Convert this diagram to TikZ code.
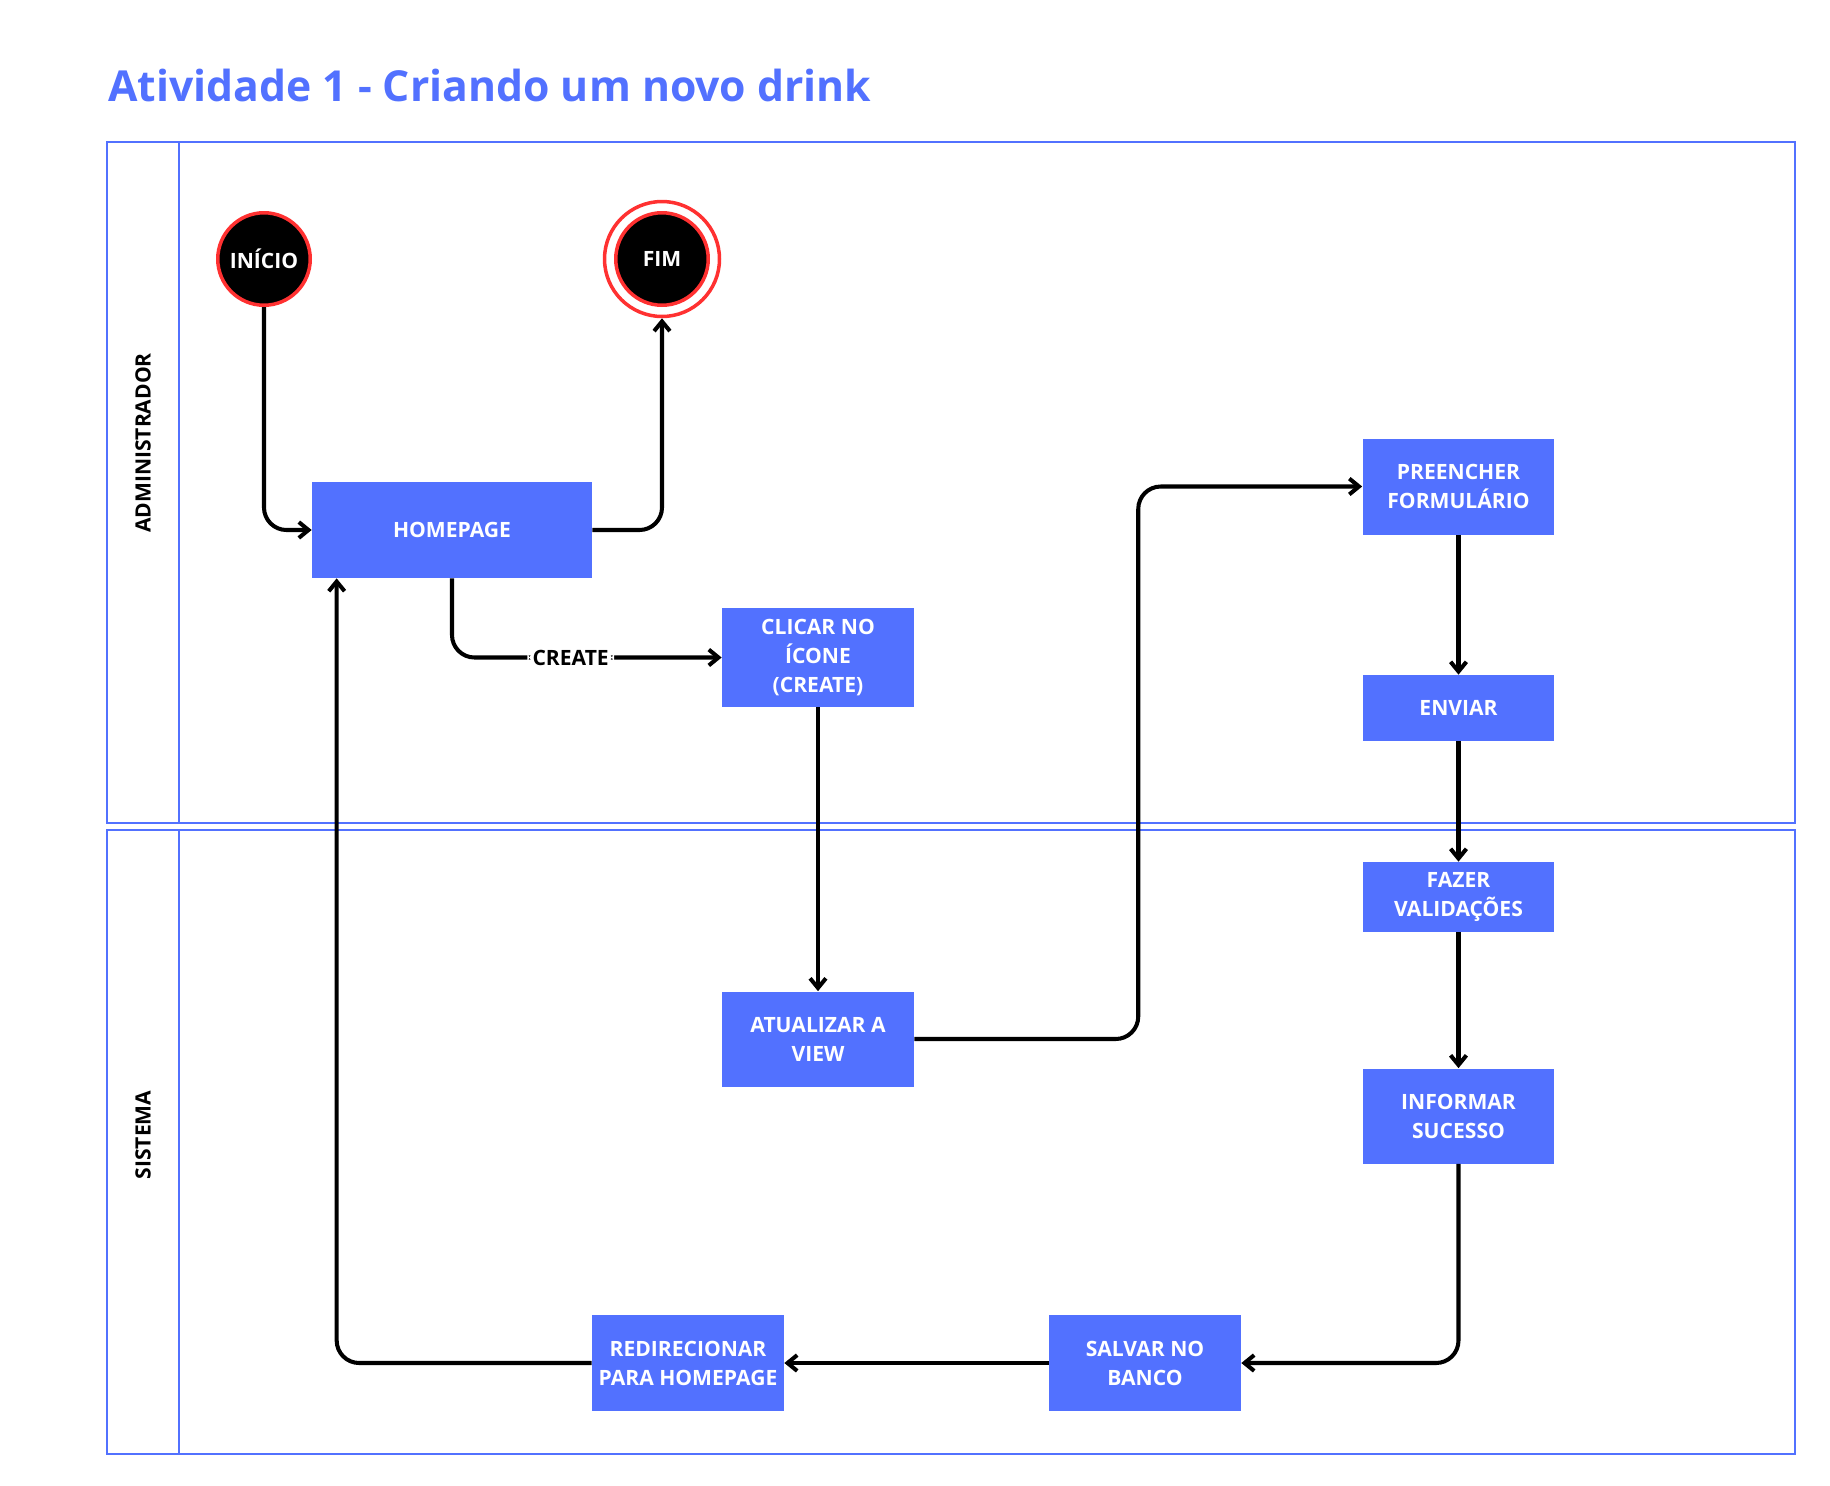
\documentclass[tikz,border=0pt]{standalone}
\usepackage{fontspec}
\setmainfont{Open Sans}
\usepackage{tikz}
\usetikzlibrary{arrows.meta,positioning,calc}
\definecolor{canvablue}{HTML}{5271FF}
\definecolor{canvared}{HTML}{FF3131}

\begin{document}
\begin{tikzpicture}[x=0.02cm,y=-0.02cm,
    flow/.style={-{Straight Barb[length=5.5pt,width=9pt,line width=2.3pt]},line width=2.3pt,rounded corners=0.45cm},
    box/.style={fill=canvablue,text=white,inner sep=0pt,align=center,font=\bfseries\fontsize{12}{16.5}\selectfont},
    endpt/.style={circle,fill=black,draw=canvared,line width=2pt,minimum size=1.85cm,inner sep=0pt,text=white,font=\bfseries\fontsize{12}{14}\selectfont},
    lane/.style={draw=canvablue,line width=1.1pt}]
    \useasboundingbox (0,0) rectangle (1830,1485);

    \node[anchor=west,text=canvablue,font=\bfseries\fontsize{24.3}{28}\selectfont] (title) at (102,85) {Atividade 1 - Criando um novo drink};

    \draw[lane] (107,142) rectangle (1795,823) (179,142) -- (179,823);
    \draw[lane] (107,830) rectangle (1795,1454) (179,830) -- (179,1454);
    \node[rotate=90,font=\bfseries\fontsize{12}{14}\selectfont] (admlbl) at (143,443) {ADMINISTRADOR};
    \node[rotate=90,font=\bfseries\fontsize{12}{14}\selectfont] (syslbl) at (143,1135) {SISTEMA};

    \node[endpt] (inicio) at (264,259) {INÍCIO};
    \node[endpt] (fim)    at (662,259) {FIM};
    \node[circle,draw=canvared,line width=2pt,minimum size=2.3cm] (fimout) at (fim) {};

    \node[box, minimum width=5.6cm,  minimum height=1.92cm] (home)    at (452,530)    {HOMEPAGE};
    \node[box, minimum width=3.84cm, minimum height=1.98cm] (clicar)  at (818,657.5)  {CLICAR NO\\ÍCONE\\(CREATE)};
    \node[box, minimum width=3.84cm, minimum height=1.9cm]  (atual)   at (818,1039)   {ATUALIZAR A\\VIEW};
    \node[box, minimum width=3.84cm, minimum height=1.92cm] (preen)   at (1458.5,486.5) {PREENCHER\\FORMULÁRIO};
    \node[box, minimum width=3.84cm, minimum height=1.32cm] (enviar)  at (1458.5,708)  {ENVIAR};
    \node[box, minimum width=3.84cm, minimum height=1.4cm]  (fazer)   at (1458.5,897)  {FAZER\\VALIDAÇÕES};
    \node[box, minimum width=3.84cm, minimum height=1.9cm]  (inform)  at (1458.5,1116) {INFORMAR\\SUCESSO};
    \node[box, minimum width=3.84cm, minimum height=1.92cm] (salvar)  at (1145,1363)  {SALVAR NO\\BANCO};
    \node[box, minimum width=3.84cm, minimum height=1.92cm] (redir)   at (688,1363)   {REDIRECIONAR\\PARA HOMEPAGE};

    \draw[flow] (inicio) |- (home);
    \draw[flow] (home) -| (fimout);
    \draw[flow] (home) |- node[pos=0.72,fill=white,inner sep=3pt,font=\bfseries\fontsize{12}{14}\selectfont] {CREATE} (clicar);
    \draw[flow] (clicar) -- (atual);
    \draw[flow] (atual) -| ($(atual.east)!.5!(preen.west)$) |- (preen);
    \draw[flow] (preen) -- (enviar);
    \draw[flow] (enviar) -- (fazer);
    \draw[flow] (fazer) -- (inform);
    \draw[flow] (inform) |- (salvar);
    \draw[flow] (salvar) -- (redir);
    \draw[flow] (redir) -| ([xshift=0.5cm]home.south west);
\end{tikzpicture}
\end{document}
